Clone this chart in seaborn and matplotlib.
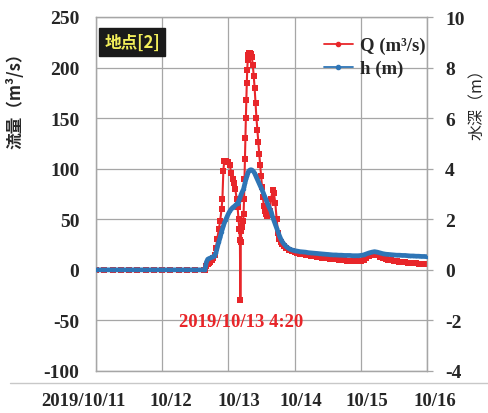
import matplotlib
matplotlib.use("Agg")
import matplotlib.pyplot as plt
import matplotlib.transforms as mtransforms
from matplotlib.lines import Line2D
import seaborn as sns
import pandas as pd

# ---- data (hours since 2019/10/11 00:00) ----
hours_flat = [0, 3, 6, 9, 12, 15, 18, 21, 24, 27, 30, 33, 36, 39, 39.5]
q_flat = [0, 0, 0, 0, 0, 0, 0, 0, 0, 0, 0, 0, 0, 0, 0]
h_flat = [0, 0, 0, 0, 0, 0, 0, 0, 0, 0, 0, 0, 0, 0, 0]

hours_event = [40.0, 40.5, 41.0, 41.5, 42.0, 42.5, 43.0, 43.5, 44.0, 44.5,
               45.0, 45.5, 45.83, 46.17, 46.5, 47.0, 47.5, 48.0, 48.5, 49.0,
               49.5, 50.0, 50.5, 51.0, 51.33, 51.67, 52.0, 52.17, 52.33, 52.5,
               52.67, 53.0, 53.33, 53.5, 53.67, 53.83, 54.0, 54.17, 54.33, 54.5,
               54.67, 54.83, 55.0, 55.17, 55.5, 55.83, 56.17, 56.5, 56.83, 57.17,
               57.5, 57.83, 58.17, 58.5, 58.83, 59.17, 59.5, 59.83, 60.17, 60.5,
               60.83, 61.17, 61.5, 62.0, 62.5, 63.0, 63.5, 64.0, 64.5, 65.0,
               65.5, 66.0, 66.5, 67.0, 67.5, 68.0, 69.0, 70.0, 71.0, 72.0]
q_event = [4, 6, 7, 8, 10, 12, 15, 22, 31, 40,
           48, 60, 70, 98, 108, 108, 107, 107, 104, 96,
           90, 86, 80, 70, 62, 50, 40, 30, -30, 28,
           38, 42, 48, 55, 70, 90, 110, 130, 150, 168,
           185, 198, 207, 212, 214, 214, 213, 210, 203, 192,
           180, 165, 150, 138, 126, 115, 104, 93, 82, 72,
           63, 58, 55, 53, 54, 58, 70, 79, 76, 66,
           50, 36, 31, 28, 26, 24, 22, 20, 19, 18]
h_event = [0.30, 0.42, 0.45, 0.47, 0.50, 0.52, 0.56, 0.68, 0.90, 1.10,
           1.28, 1.50, 1.62, 1.75, 1.85, 1.98, 2.10, 2.22, 2.32, 2.40,
           2.46, 2.50, 2.55, 2.60, 2.62, 2.70, 2.80, 2.85, 2.90, 2.95,
           3.00, 3.08, 3.15, 3.20, 3.28, 3.35, 3.45, 3.52, 3.58, 3.64,
           3.70, 3.76, 3.82, 3.87, 3.92, 3.95, 3.96, 3.95, 3.92, 3.88,
           3.82, 3.74, 3.66, 3.58, 3.50, 3.42, 3.34, 3.26, 3.17, 3.08,
           2.98, 2.90, 2.80, 2.66, 2.54, 2.42, 2.30, 2.10, 1.95, 1.80,
           1.65, 1.50, 1.35, 1.22, 1.12, 1.04, 0.92, 0.84, 0.79, 0.76]

hours_tail = [73, 74, 75, 76, 77, 78, 79, 80, 81, 82, 83, 84, 85, 86, 87, 88,
              89, 90, 91, 92, 93, 94, 95, 96, 97, 98, 99, 100, 101, 102, 103, 104,
              105, 106, 107, 108, 109, 110, 111, 112, 113, 114, 115, 116, 117, 118,
              119, 120]
q_tail = [17, 16, 16, 15, 15, 14, 14, 13, 13, 12, 12, 12, 11, 11, 11, 10,
          10, 10, 9, 9, 9, 9, 9, 9, 10, 12, 14, 15, 16, 15, 13, 12,
          11, 10, 10, 9, 9, 8, 8, 8, 7, 7, 7, 7, 6, 6,
          6, 6]
h_tail = [0.74, 0.72, 0.71, 0.70, 0.68, 0.67, 0.66, 0.65, 0.64, 0.63, 0.62, 0.61,
          0.60, 0.59, 0.59, 0.58, 0.58, 0.57, 0.57, 0.57, 0.56, 0.56, 0.56, 0.57,
          0.59, 0.63, 0.67, 0.70, 0.72, 0.70, 0.67, 0.64, 0.62, 0.61, 0.60, 0.59,
          0.58, 0.58, 0.57, 0.57, 0.56, 0.55, 0.55, 0.54, 0.54, 0.53, 0.53, 0.52]

x_tick_labels = ["2019/10/11", "10/12", "10/13", "10/14", "10/15", "10/16"]
q_ticks = [-100, -50, 0, 50, 100, 150, 200, 250]
h_ticks = [-4, -2, 0, 2, 4, 6, 8, 10]
annotation_text = "2019/10/13 4:20"
site_label = "地点[2]"

# ---- build table ----
hours = hours_flat + hours_event + hours_tail
df = pd.DataFrame({
    "time": pd.Timestamp("2019-10-11") + pd.to_timedelta(hours, unit="h"),
    "Q": q_flat + q_event + q_tail,
    "h": h_flat + h_event + h_tail,
})

RED = "#e8262a"
BLUE = "#2e75b6"
GRID = "#a6a6a6"

sns.set_style("white")
plt.rcParams["font.family"] = ["Liberation Serif", "DejaVu Serif"]
CJK = ["Noto Sans CJK JP", "DejaVu Sans"]

fig = plt.figure(figsize=(4.88, 4.14), dpi=100)
ax = fig.add_axes([96 / 488, 1 - 372 / 414, 331 / 488, 354 / 414])
ax2 = ax.twinx()

sns.lineplot(data=df, x="time", y="Q", ax=ax, color=RED, linewidth=1.5,
             marker="s", markersize=4.2, markeredgewidth=0, estimator=None,
             sort=False, legend=False, zorder=3)
sns.lineplot(data=df, x="time", y="h", ax=ax2, color=BLUE, linewidth=3.4,
             marker="o", markersize=2.5, markeredgewidth=0, estimator=None,
             sort=False, legend=False, zorder=3)

t0 = pd.Timestamp("2019-10-11")
tick_pos = [t0 + pd.Timedelta(days=i) for i in range(6)]
ax.set_xlim(tick_pos[0], tick_pos[-1])
ax.set_xticks(tick_pos)
ax.set_xticklabels(x_tick_labels, fontsize=13.5, fontweight="bold")
ax.set_ylim(-100, 250)
ax.set_yticks(q_ticks)
ax.set_yticklabels([str(v) for v in q_ticks], fontsize=14, fontweight="bold")
ax2.set_ylim(-4, 10)
ax2.set_yticks(h_ticks)
ax2.set_yticklabels([str(v) for v in h_ticks], fontsize=14, fontweight="bold")

ax.grid(True, color=GRID, linewidth=0.9)
ax.set_axisbelow(True)
for a in (ax, ax2):
    for s in a.spines.values():
        s.set_color(GRID)
        s.set_linewidth(0.9)
ax.tick_params(axis="x", length=0, pad=15)
ax.tick_params(axis="y", length=0, pad=12)
ax2.tick_params(axis="y", length=4, width=0.9, color=GRID, pad=9)
ax.set_xlabel("")

# x tick label offsets (as in reference)
offsets = [-13, 9, 10, 6, 6, 8]
for lbl, dx in zip(ax.get_xticklabels(), offsets):
    lbl.set_transform(lbl.get_transform() + mtransforms.ScaledTranslation(dx / 100, 0, fig.dpi_scale_trans))

ax.set_ylabel("流量（m³/s）", family=CJK, fontsize=12, fontweight="bold")
ax.yaxis.set_label_coords(-0.2145, 0.777)
ax2.set_ylabel("水深（m）", family=CJK, fontsize=11.5, rotation=90)
ax2.yaxis.set_label_coords(1.128, 0.768)

# site box
ax.text(0.025, 0.955, site_label, transform=ax.transAxes, family=CJK,
        fontsize=12, fontweight="bold", color="#f2ee5a", va="top", ha="left",
        bbox=dict(boxstyle="square,pad=0.3", facecolor="#1a1a1a", edgecolor="#1a1a1a"),
        zorder=5)

# annotation
ax.text(t0 + pd.Timedelta(hours=52.6), -51, annotation_text, color=RED,
        fontsize=13.5, fontweight="bold", ha="center", va="center", zorder=4)

# legend
handles = [Line2D([], [], color=RED, linewidth=1.3, marker="o", markersize=3),
           Line2D([], [], color=BLUE, linewidth=1.3, marker="o", markersize=3)]
leg = ax2.legend(handles, ["Q (m³/s)", "h (m)"], loc="upper right",
                 bbox_to_anchor=(1.03, 0.975), frameon=False,
                 prop=dict(family="Liberation Serif", weight="bold", size=13.5),
                 handlelength=1.5, handletextpad=0.4, labelspacing=0.3,
                 borderaxespad=0.2)

# separator line above the date labels
fig.add_artist(Line2D([10 / 488, 1.0], [1 - 384 / 414] * 2,
                      transform=fig.transFigure, color="#c8c8c8", linewidth=1.0))

fig.savefig("out.png", dpi=100)
